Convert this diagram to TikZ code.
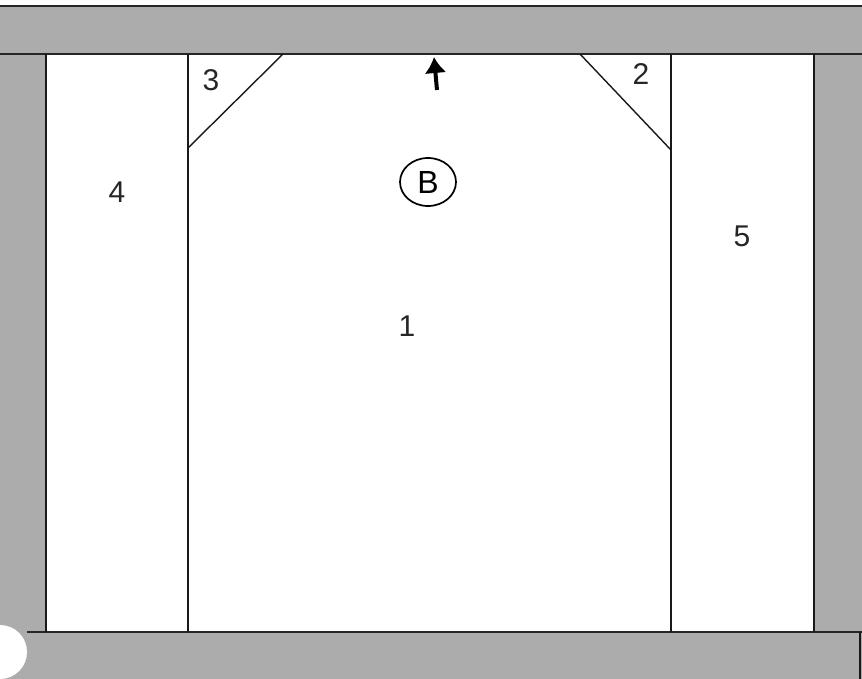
\documentclass[tikz,border=0pt]{standalone}
\usepackage{fontspec}
\setmainfont{Liberation Sans}
\usetikzlibrary{arrows.meta,shapes.geometric}
\definecolor{bandgray}{RGB}{172,172,172}
\begin{document}
\begin{tikzpicture}[x=1pt, y=-1pt,
    band/.style={fill=bandgray, draw=none},
    edge/.style={line width=1.8pt, black!85},
    wall/.style={line width=1.4pt, black!90},
    digit/.style={font=\fontsize{30}{30}\selectfont, black!85}]
  \useasboundingbox (0,0) rectangle (862,679);
  \fill[white] (0,0) rectangle (862,679);

  % Shaded border bands
  \fill[band] (0,6) rectangle (862,54);
  \fill[band] (0,54) rectangle (46,632);
  \fill[band] (815,54) rectangle (862,632);
  \fill[band] (0,632) rectangle (862,679);
  \fill[white] (0,652) circle (27);

  % Outline of the bands
  \draw[edge] (0,6) -- (862,6);
  \draw[edge] (0,54) -- (862,54);
  \draw[edge] (27,632) -- (862,632);
  \draw[wall] (46,54) -- (46,632);
  \draw[wall] (814,54) -- (814,632);
  \draw[wall] (860,632) -- (860,679);

  % Inner walls and corner cuts
  \draw[wall] (188,54) -- (188,632);
  \draw[wall] (671,54) -- (671,632);
  \draw[wall] (283,54) -- (188,148);
  \draw[wall] (580,54) -- (671,150);

  % Labels
  \node[digit] (lbl-one) at (407,326) {1};
  \node[digit] (lbl-two) at (641,74) {2};
  \node[digit] (lbl-three) at (211,80) {3};
  \node[digit] (lbl-four) at (117,192) {4};
  \node[digit] (lbl-five) at (742,236) {5};
  \node[ellipse, draw, line width=1.7pt, minimum width=56pt, minimum height=48pt,
        inner sep=0pt, font=\fontsize{32}{32}\selectfont] (lbl-b) at (428,182) {B};

  % Direction mark
  \coordinate (arr-tail) at (437,90);
  \coordinate (arr-head) at (434,57);
  \draw[line width=4pt, -{Latex[length=16pt, width=22pt]}] (arr-tail) -- (arr-head);
\end{tikzpicture}
\end{document}
